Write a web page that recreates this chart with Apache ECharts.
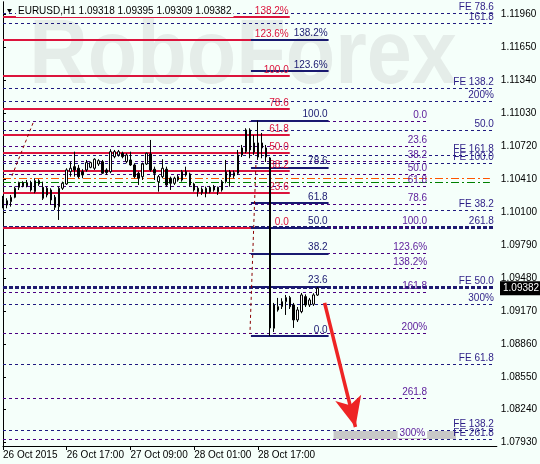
<!DOCTYPE html>
<html>
<head>
<meta charset="utf-8">
<script src="https://cdn.jsdelivr.net/npm/echarts@6/dist/echarts.min.js"></script>
<style>
html, body { margin: 0; padding: 0; background: #f5fffa; }
#main { width: 540px; height: 464px; }
</style>
</head>
<body>
<div id="main"></div>
<script>
// EURUSD H1, 26-29 Oct 2015 : [open, high, low, close]
const candles = [
  [1.10228, 1.10250, 1.10134, 1.10165], [1.10165, 1.10228, 1.10134, 1.10205],
  [1.10196, 1.10259, 1.10149, 1.10237], [1.10237, 1.10337, 1.10228, 1.10322],
  [1.10331, 1.10384, 1.10306, 1.10375], [1.10344, 1.10388, 1.10331, 1.10375],
  [1.10344, 1.10400, 1.10331, 1.10375], [1.10375, 1.10393, 1.10290, 1.10306],
  [1.10290, 1.10416, 1.10275, 1.10393], [1.10393, 1.10407, 1.10344, 1.10362],
  [1.10331, 1.10384, 1.10212, 1.10228], [1.10322, 1.10337, 1.10237, 1.10259],
  [1.10306, 1.10322, 1.10165, 1.10212], [1.10237, 1.10259, 1.10118, 1.10143],
  [1.10149, 1.10337, 1.10024, 1.10322], [1.10322, 1.10384, 1.10306, 1.10369],
  [1.10362, 1.10510, 1.10353, 1.10494], [1.10478, 1.10572, 1.10431, 1.10510],
  [1.10525, 1.10666, 1.10431, 1.10494], [1.10510, 1.10541, 1.10416, 1.10431],
  [1.10478, 1.10501, 1.10416, 1.10447], [1.10494, 1.10588, 1.10478, 1.10563],
  [1.10519, 1.10572, 1.10510, 1.10563], [1.10510, 1.10604, 1.10494, 1.10595],
  [1.10550, 1.10595, 1.10532, 1.10581], [1.10572, 1.10588, 1.10456, 1.10463],
  [1.10494, 1.10510, 1.10447, 1.10469], [1.10478, 1.10689, 1.10463, 1.10666],
  [1.10619, 1.10682, 1.10604, 1.10666], [1.10635, 1.10682, 1.10619, 1.10666],
  [1.10651, 1.10666, 1.10604, 1.10619], [1.10572, 1.10651, 1.10557, 1.10635],
  [1.10588, 1.10666, 1.10532, 1.10541], [1.10541, 1.10557, 1.10416, 1.10431],
  [1.10463, 1.10478, 1.10353, 1.10416], [1.10431, 1.10563, 1.10400, 1.10550],
  [1.10550, 1.10657, 1.10541, 1.10651], [1.10644, 1.10776, 1.10478, 1.10494],
  [1.10501, 1.10525, 1.10400, 1.10463], [1.10384, 1.10447, 1.10290, 1.10431],
  [1.10431, 1.10595, 1.10416, 1.10510], [1.10501, 1.10525, 1.10337, 1.10353],
  [1.10416, 1.10431, 1.10306, 1.10369], [1.10369, 1.10431, 1.10353, 1.10416],
  [1.10431, 1.10447, 1.10384, 1.10400], [1.10400, 1.10494, 1.10384, 1.10478],
  [1.10478, 1.10525, 1.10431, 1.10447], [1.10456, 1.10469, 1.10337, 1.10353],
  [1.10362, 1.10375, 1.10290, 1.10306], [1.10322, 1.10337, 1.10243, 1.10290],
  [1.10313, 1.10331, 1.10259, 1.10281], [1.10275, 1.10337, 1.10237, 1.10322],
  [1.10331, 1.10344, 1.10275, 1.10290], [1.10306, 1.10353, 1.10290, 1.10337],
  [1.10331, 1.10337, 1.10259, 1.10290], [1.10306, 1.10400, 1.10290, 1.10384],
  [1.10384, 1.10588, 1.10369, 1.10478], [1.10478, 1.10494, 1.10337, 1.10431],
  [1.10438, 1.10488, 1.10416, 1.10469], [1.10463, 1.10682, 1.10447, 1.10635],
  [1.10635, 1.10729, 1.10616, 1.10701], [1.10666, 1.10886, 1.10651, 1.10870],
  [1.10870, 1.10886, 1.10604, 1.10682], [1.10663, 1.10823, 1.10635, 1.10748],
  [1.10748, 1.10959, 1.10588, 1.10616], [1.10701, 1.10842, 1.10604, 1.10748],
  [1.10701, 1.10729, 1.10569, 1.10616], [1.10607, 1.10616, 1.08933, 1.09009],
  [1.09006, 1.09244, 1.08971, 1.09225], [1.09178, 1.09291, 1.09162, 1.09209],
  [1.09209, 1.09288, 1.09187, 1.09256], [1.09256, 1.09319, 1.09131, 1.09294],
  [1.09294, 1.09310, 1.09187, 1.09209], [1.09225, 1.09244, 1.09009, 1.09084],
  [1.09084, 1.09206, 1.09065, 1.09178], [1.09162, 1.09338, 1.09147, 1.09319],
  [1.09303, 1.09324, 1.09206, 1.09225], [1.09225, 1.09291, 1.09206, 1.09272],
  [1.09232, 1.09335, 1.09216, 1.09319], [1.09318, 1.09395, 1.09309, 1.09382]
];

const slotCount = 125;           // bars + empty space to the right
const timeLabels = ['26 Oct 2015', '26 Oct 17:00', '27 Oct 09:00', '28 Oct 01:00', '28 Oct 17:00'];
const labelEvery = 16;
const priceTicks = [1.07930, 1.08240, 1.08550, 1.08860, 1.09170, 1.09480, 1.09790,
                    1.10100, 1.10410, 1.10720, 1.11030, 1.11340, 1.11650, 1.11960];
const yMin = 1.07899, yMax = 1.12073;

// fibo retracement (red)
const redLevels = [[1.11932, '138.2%'], [1.11716, '123.6%'], [1.11377, '100.0'], [1.11067, '78.6'],
  [1.10823, '61.8'], [1.10653, '50.0'], [1.10484, '38.2'], [1.10277, '23.6'], [1.09948, '0.0']];
// fibo retracement of the drop (navy)
const navyLevels = [[1.11720, '138.2%'], [1.11424, '123.6%'], [1.10959, '100.0'], [1.10517, '78.6'],
  [1.10183, '61.8'], [1.09953, '50.0'], [1.09710, '38.2'], [1.09398, '23.6'], [1.08933, '0.0']];
// long fibo (purple)
const purpleLevels = [[1.10954, '0.0'], [1.10719, '23.6'], [1.10574, '38.2'], [1.10456, '50.0'],
  [1.10339, '61.8'], [1.10171, '78.6'], [1.09958, '100.0'], [1.09713, '123.6%'], [1.09572, '138.2%'],
  [1.09342, '161.8'], [1.08961, '200%'], [1.08346, '261.8'], [1.07965, '300%']];
// fibo expansions
const feLevels = [[1.11967, 'FE 78.6'], [1.11873, '161.8'], [1.11262, 'FE 138.2'], [1.11142, '200%'],
  [1.10867, '50.0'], [1.10635, 'FE 161.8'], [1.10557, 'FE 100.0'], [1.10118, 'FE 38.2'],
  [1.09231, '300%'], [1.08667, 'FE 61.8'], [1.08049, 'FE 138.2'], [1.07965, 'FE 261.8']];
const feMainLevels = [[1.09958, '261.8'], [1.09387, 'FE 50.0']];
const orangeLevel = 1.10416, greenLevel = 1.10378;

// spans in bar units
const redSpan = [0, 72], navySpan = [62.25, 81.75], purpleSpan = [0, 106.75], feSpan = [0, 123.5], pivotSpan = [0, 122.25];
const trendA = [[2.25, 1.10438], [7.75, 1.10955]];
const trendB = [[63.5, 1.10541], [62, 1.08952]];
const arrowPath = [[80.75, 1.09244], [88.5, 1.08078]];
const targetZone = [[83, 1.08040], [113.75, 1.07965]];

const BG = '#f5fffa';
const FONT = '"Liberation Sans", Arial, sans-serif';

const slots = [];
for (let i = 0; i < slotCount; i++) slots.push(String(i));
const showTick = (i) => i % labelEvery === 0 && i / labelEvery < timeLabels.length;

function levelSeries(levels, span, lineStyle, color, tweak) {
  return {
    type: 'line', xAxisIndex: 1, yAxisIndex: 0, data: [], silent: true,
    markLine: {
      silent: true, animation: false, symbol: ['none', 'none'],
      lineStyle: lineStyle,
      emphasis: { disabled: true },
      label: { show: true, position: 'insideEndTop', formatter: '{b}', color: color,
               fontSize: 10, fontFamily: FONT, distance: 1 },
      data: levels.map((l, i) => {
        const from = { name: l[1], coord: [span[0], l[0]] };
        if (tweak) tweak(from, l, i);
        return [from, { coord: [span[1], l[0]] }];
      })
    }
  };
}

const chart = echarts.init(document.getElementById('main'));
const last = candles[candles.length - 1];

const option = {
  backgroundColor: BG,
  animation: false,
  grid: { left: 3, right: 41, top: 2, bottom: 18 },
  xAxis: [
    {
      type: 'category', data: slots, boundaryGap: false,
      axisLine: { onZero: false, lineStyle: { color: '#000' } },
      axisTick: { interval: showTick, length: 4, lineStyle: { color: '#000' } },
      axisLabel: { interval: showTick, formatter: (v, i) => timeLabels[i / labelEvery],
                   align: 'left', fontSize: 10, fontFamily: FONT, color: '#000', margin: 4 },
      splitLine: { show: false }
    },
    { type: 'value', min: 0, max: slotCount - 1, show: false }
  ],
  yAxis: [
    {
      type: 'value', position: 'right', min: yMin, max: yMax,
      axisLine: { show: true, lineStyle: { color: '#000' } },
      axisTick: { show: true, length: 3, customValues: priceTicks, lineStyle: { color: '#000' } },
      axisLabel: { customValues: priceTicks, formatter: v => v.toFixed(5), fontSize: 10,
                   fontFamily: FONT, color: '#000', margin: 4 },
      splitLine: { show: false }
    },
    {
      type: 'value', position: 'left', min: yMin, max: yMax,
      axisLine: { show: true, lineStyle: { color: '#000' } },
      axisTick: { show: false }, axisLabel: { show: false }, splitLine: { show: false }
    }
  ],
  series: [
    {
      type: 'line', xAxisIndex: 1, data: [], silent: true,
      markArea: {
        silent: true, itemStyle: { color: '#c8c8c8' },
        data: [[{ coord: targetZone[0] }, { coord: targetZone[1] }]]
      }
    },
    levelSeries(feLevels, feSpan, { color: '#1f1a80', width: 1, type: [3, 3] }, '#2b1d86'),
    levelSeries(feMainLevels, feSpan, { color: '#1f1a70', width: 3, type: [4, 2] }, '#2b1d86'),
    levelSeries(purpleLevels, purpleSpan, { color: '#4b0082', width: 1, type: [3, 3] }, '#5a1a9a',
      (from, l, i) => {
        if (i === purpleLevels.length - 1) from.label = { backgroundColor: BG, padding: [0, 2] };
      }),
    levelSeries([[orangeLevel, '']], pivotSpan, { color: '#ff5500', width: 1, type: [8, 3, 2, 3] }, '#ff5500'),
    levelSeries([[greenLevel, '']], pivotSpan, { color: '#008000', width: 1, type: [8, 3, 2, 3] }, '#008000'),
    levelSeries(redLevels, redSpan, { color: '#dc143c', width: 2, type: 'solid' }, '#dc143c'),
    levelSeries(navyLevels, navySpan, { color: '#191970', width: 2, type: 'solid' }, '#191970'),
    {
      type: 'line', xAxisIndex: 1, data: [], silent: true,
      markLine: {
        silent: true, symbol: ['none', 'none'], label: { show: false },
        lineStyle: { color: '#8b0000', width: 1, type: [3, 3] },
        data: [
          [{ coord: trendA[0] }, { coord: trendA[1] }],
          [{ coord: trendB[0] }, { coord: trendB[1] }]
        ]
      }
    },
    {
      type: 'candlestick', xAxisIndex: 0, yAxisIndex: 0, silent: true, z: 5,
      barWidth: 2,
      data: candles.map(c => [c[0], c[3], c[2], c[1]]),
      itemStyle: { color: '#ffffff', color0: '#000000', borderColor: '#000000', borderColor0: '#000000', borderWidth: 1 }
    },
    {
      type: 'line', xAxisIndex: 1, data: [], silent: true, z: 6,
      markLine: {
        silent: true, label: { show: false }, symbol: ['none', 'arrow'],
        symbolSize: [0, 24],
        lineStyle: { color: '#ee2424', width: 3.5, type: 'solid' },
        itemStyle: { color: '#ee2424' },
        data: [[{ coord: arrowPath[0] }, { coord: arrowPath[1], symbol: 'arrow', symbolSize: [20, 30] }]]
      }
    }
  ]
};
chart.setOption(option);

const py = chart.convertToPixel({ yAxisIndex: 0 }, last[3]);
chart.setOption({
  graphic: [
    { type: 'text', x: 243, y: 58, z: 0, scaleX: 0.9, silent: true,
      style: { text: 'RoboForex', fill: '#e5ede9', fontSize: 90, fontWeight: 'bold', fontFamily: FONT,
               align: 'center', verticalAlign: 'middle' } },
    { type: 'text', x: 16, y: 5, z: 100, silent: true,
      style: { text: 'EURUSD,H1 ' + last.map(v => v.toFixed(5)).join(' '), fill: '#000',
               fontSize: 10, fontFamily: FONT, backgroundColor: BG, padding: [1, 2, 1, 2] } },
    { type: 'polygon', z: 100, silent: true, shape: { points: [[7, 9], [12, 9], [9.5, 13]] }, style: { fill: '#000' } },
    { type: 'rect', z: 100, silent: true, shape: { x: 500, y: py - 7, width: 40, height: 14 }, style: { fill: '#000' } },
    { type: 'text', x: 503, y: py, z: 101, silent: true,
      style: { text: last[3].toFixed(5), fill: '#fff', fontSize: 10, fontFamily: FONT, verticalAlign: 'middle' } }
  ]
});
</script>
</body>
</html>
